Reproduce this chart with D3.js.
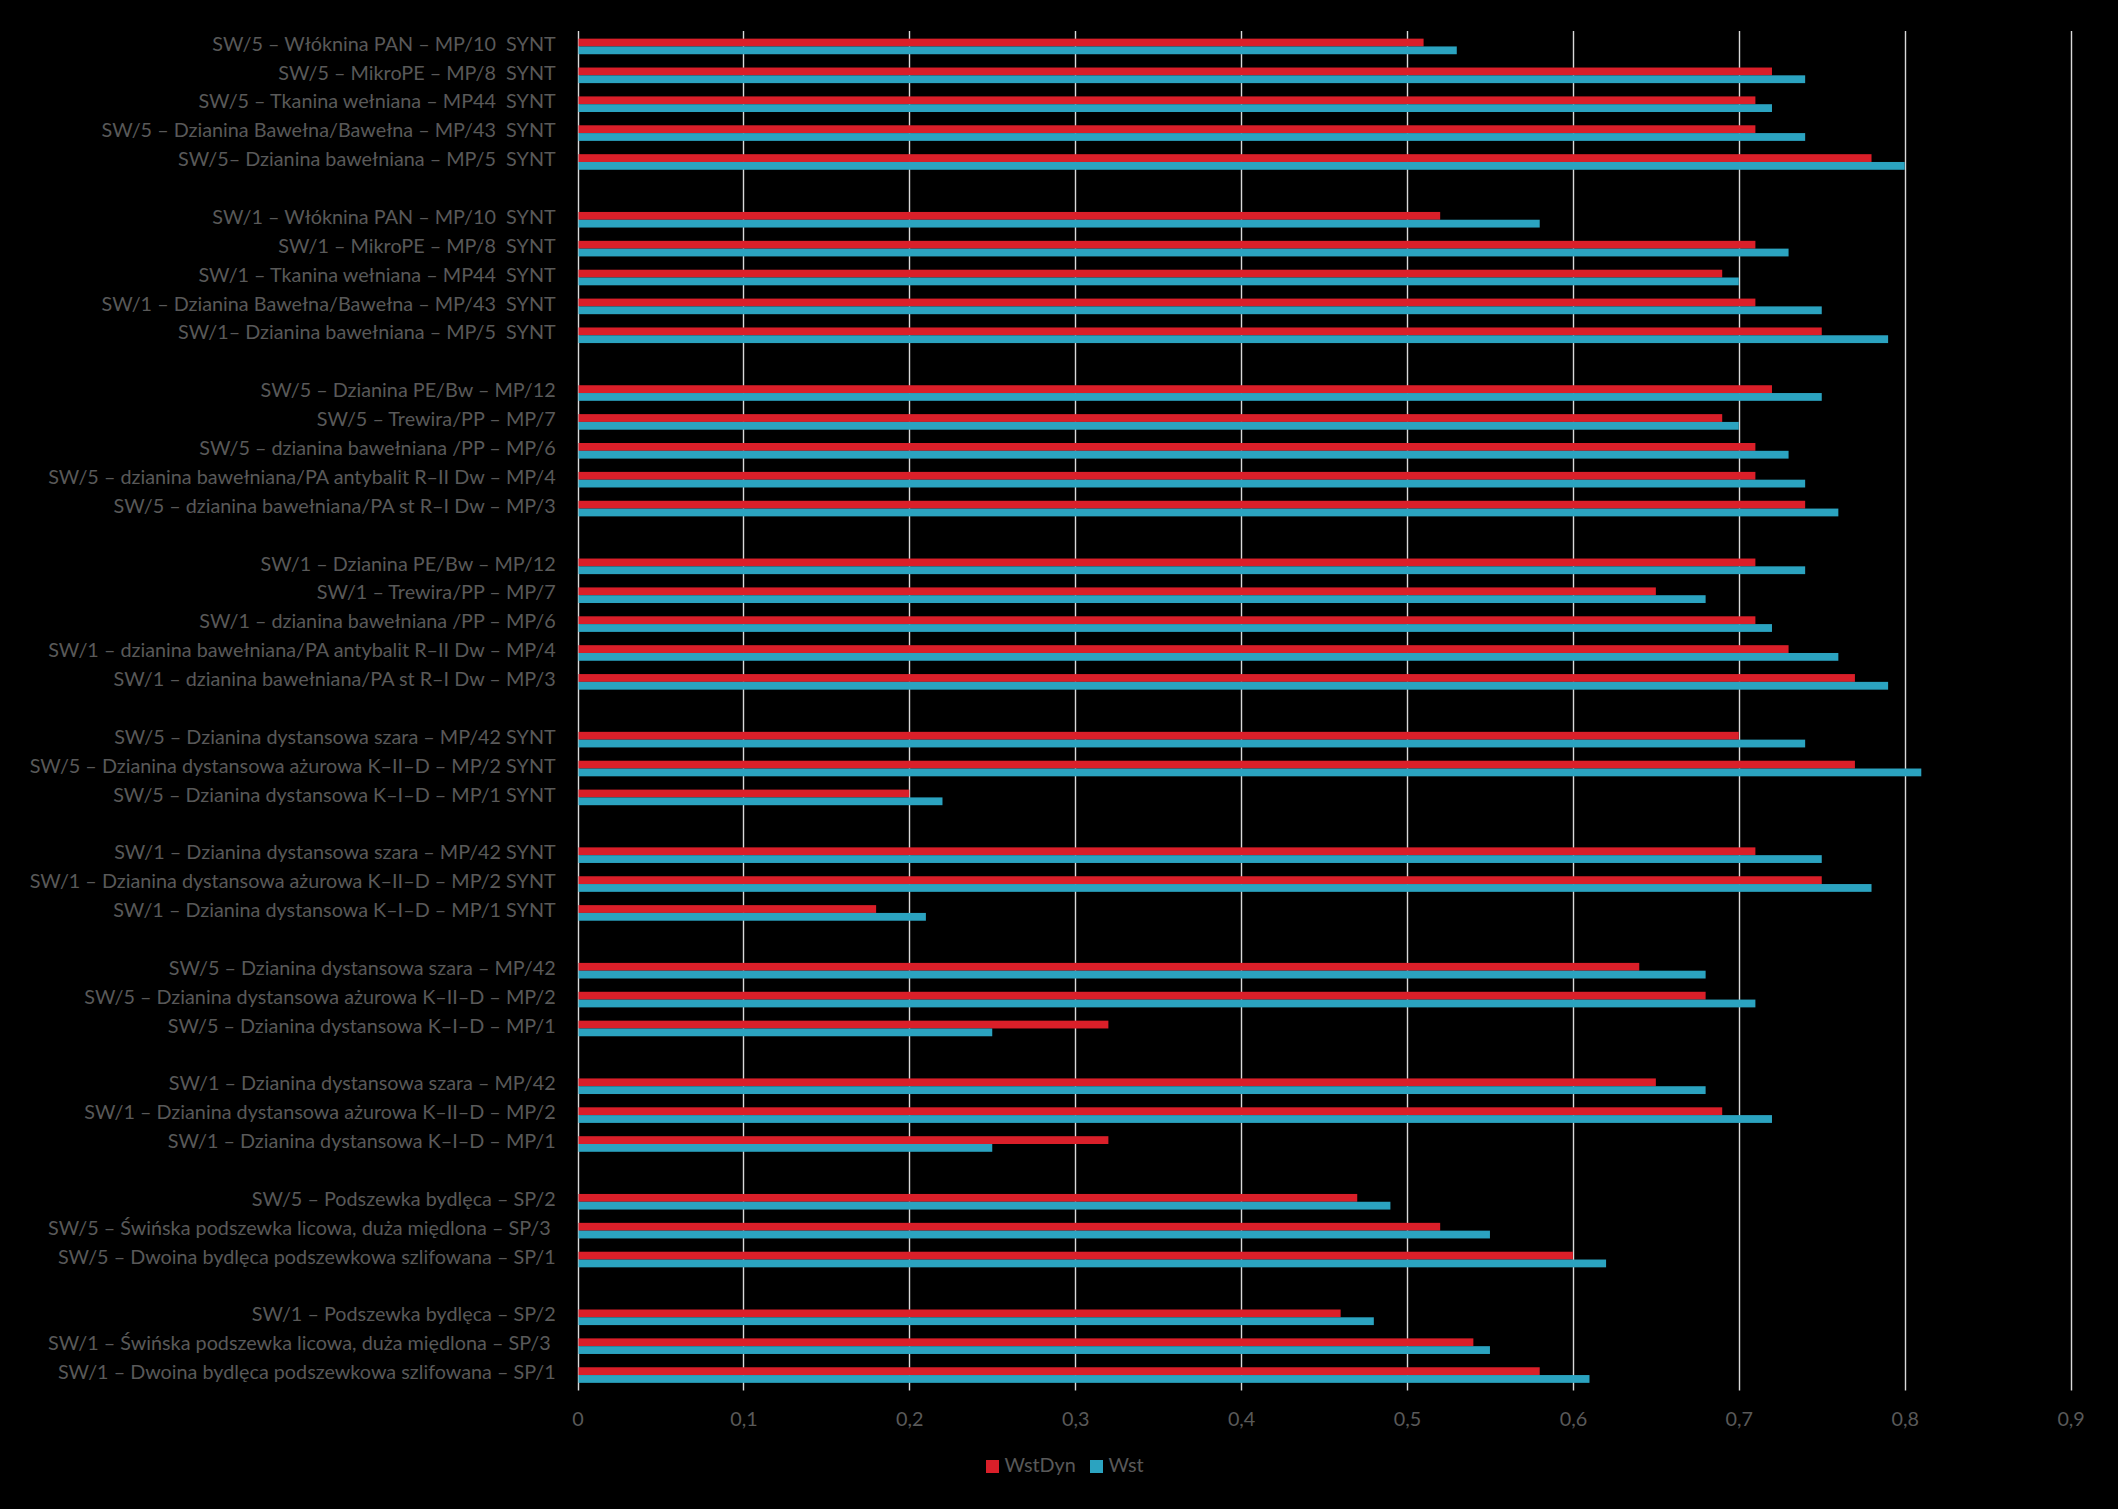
<!DOCTYPE html>
<html>
<head>
<meta charset="utf-8">
<script src="https://cdn.jsdelivr.net/npm/d3@7"></script>
<style>
  html, body { margin: 0; padding: 0; background: #000; }
  svg { display: block; }
  text { white-space: pre; }
</style>
</head>
<body>
<svg id="chart" width="2118" height="1509"></svg>
<script>
// ---- data (top to bottom; null = gap between groups) ----
const categories = [
  "SW/5 – Włóknina PAN – MP/10  SYNT",
  "SW/5 – MikroPE – MP/8  SYNT",
  "SW/5 – Tkanina wełniana – MP44  SYNT",
  "SW/5 – Dzianina Bawełna/Bawełna – MP/43  SYNT",
  "SW/5– Dzianina bawełniana – MP/5  SYNT",
  null,
  "SW/1 – Włóknina PAN – MP/10  SYNT",
  "SW/1 – MikroPE – MP/8  SYNT",
  "SW/1 – Tkanina wełniana – MP44  SYNT",
  "SW/1 – Dzianina Bawełna/Bawełna – MP/43  SYNT",
  "SW/1– Dzianina bawełniana – MP/5  SYNT",
  null,
  "SW/5 – Dzianina PE/Bw – MP/12",
  "SW/5 – Trewira/PP – MP/7",
  "SW/5 – dzianina bawełniana /PP – MP/6",
  "SW/5 – dzianina bawełniana/PA antybalit R–II Dw – MP/4",
  "SW/5 – dzianina bawełniana/PA st R–I Dw – MP/3",
  null,
  "SW/1 – Dzianina PE/Bw – MP/12",
  "SW/1 – Trewira/PP – MP/7",
  "SW/1 – dzianina bawełniana /PP – MP/6",
  "SW/1 – dzianina bawełniana/PA antybalit R–II Dw – MP/4",
  "SW/1 – dzianina bawełniana/PA st R–I Dw – MP/3",
  null,
  "SW/5 – Dzianina dystansowa szara – MP/42 SYNT",
  "SW/5 – Dzianina dystansowa ażurowa K–II–D – MP/2 SYNT",
  "SW/5 – Dzianina dystansowa K–I–D – MP/1 SYNT",
  null,
  "SW/1 – Dzianina dystansowa szara – MP/42 SYNT",
  "SW/1 – Dzianina dystansowa ażurowa K–II–D – MP/2 SYNT",
  "SW/1 – Dzianina dystansowa K–I–D – MP/1 SYNT",
  null,
  "SW/5 – Dzianina dystansowa szara – MP/42",
  "SW/5 – Dzianina dystansowa ażurowa K–II–D – MP/2",
  "SW/5 – Dzianina dystansowa K–I–D – MP/1",
  null,
  "SW/1 – Dzianina dystansowa szara – MP/42",
  "SW/1 – Dzianina dystansowa ażurowa K–II–D – MP/2",
  "SW/1 – Dzianina dystansowa K–I–D – MP/1",
  null,
  "SW/5 – Podszewka bydlęca – SP/2",
  "SW/5 – Świńska podszewka licowa, duża międlona – SP/3 ",
  "SW/5 – Dwoina bydlęca podszewkowa szlifowana – SP/1",
  null,
  "SW/1 – Podszewka bydlęca – SP/2",
  "SW/1 – Świńska podszewka licowa, duża międlona – SP/3 ",
  "SW/1 – Dwoina bydlęca podszewkowa szlifowana – SP/1"
];

const wstDyn = [
  0.51, 0.72, 0.71, 0.71, 0.78, null,
  0.52, 0.71, 0.69, 0.71, 0.75, null,
  0.72, 0.69, 0.71, 0.71, 0.74, null,
  0.71, 0.65, 0.71, 0.73, 0.77, null,
  0.70, 0.77, 0.20, null,
  0.71, 0.75, 0.18, null,
  0.64, 0.68, 0.32, null,
  0.65, 0.69, 0.32, null,
  0.47, 0.52, 0.60, null,
  0.46, 0.54, 0.58
];

const wst = [
  0.53, 0.74, 0.72, 0.74, 0.80, null,
  0.58, 0.73, 0.70, 0.75, 0.79, null,
  0.75, 0.70, 0.73, 0.74, 0.76, null,
  0.74, 0.68, 0.72, 0.76, 0.79, null,
  0.74, 0.81, 0.22, null,
  0.75, 0.78, 0.21, null,
  0.68, 0.71, 0.25, null,
  0.68, 0.72, 0.25, null,
  0.49, 0.55, 0.62, null,
  0.48, 0.55, 0.61
];

const seriesNames = ["WstDyn", "Wst"];
const seriesColors = ["#da1f29", "#2ba3c0"];
const tickValues = [0, 0.1, 0.2, 0.3, 0.4, 0.5, 0.6, 0.7, 0.8, 0.9];
const tickLabels = ["0", "0,1", "0,2", "0,3", "0,4", "0,5", "0,6", "0,7", "0,8", "0,9"];

// ---- layout ----
const FONT = "Lato, 'Open Sans', sans-serif";
const FONT_SIZE = 19.8;
const textColor = "#595959";
const gridColor = "#d9d9d9";
const plot = { left: 577.5, right: 2070.6, top: 32, bottom: 1389.5 };

const svg = d3.select("#chart");
svg.append("rect").attr("width", 2118).attr("height", 1509).attr("fill", "#000");

const x = d3.scaleLinear().domain([0, 0.9]).range([plot.left, plot.right]);
const y = d3.scaleBand()
  .domain(d3.range(categories.length))
  .range([plot.top, plot.bottom])
  .paddingInner(0.46)
  .paddingOuter(0.23);
const ySub = d3.scaleBand().domain(seriesNames).range([0, y.bandwidth()]);

// gridlines (including the axis line at 0)
svg.append("g")
  .selectAll("line")
  .data(tickValues)
  .join("line")
  .attr("x1", d => Math.round(x(d)) + 0.5)
  .attr("x2", d => Math.round(x(d)) + 0.5)
  .attr("y1", plot.top - 1)
  .attr("y2", plot.bottom + 1)
  .attr("stroke", gridColor)
  .attr("stroke-width", 1.4);

// bars
const seriesData = [wstDyn, wst];
seriesNames.forEach((name, si) => {
  svg.append("g")
    .attr("fill", seriesColors[si])
    .selectAll("rect")
    .data(seriesData[si].map((v, i) => ({ v, i })).filter(d => d.v != null))
    .join("rect")
    .attr("x", x(0) + 1)
    .attr("y", d => y(d.i) + ySub(name))
    .attr("width", d => x(d.v) - x(0) - 1)
    .attr("height", ySub.bandwidth());
});

// category labels
svg.append("g")
  .selectAll("text")
  .data(categories.map((c, i) => ({ c, i })).filter(d => d.c != null))
  .join("text")
  .attr("x", 555.7)
  .attr("y", d => y(d.i) + y.bandwidth() / 2 + 4.2)
  .attr("text-anchor", "end")
  .attr("font-family", FONT)
  .attr("font-size", FONT_SIZE)
  .attr("fill", textColor)
  .text(d => d.c);

// x axis
const xAxis = d3.axisBottom(x)
  .tickValues(tickValues)
  .tickFormat((d, i) => tickLabels[i])
  .tickSize(0)
  .tickPadding(22);
const gx = svg.append("g")
  .attr("transform", `translate(0,${plot.bottom})`)
  .call(xAxis);
gx.select(".domain").remove();
gx.selectAll("text")
  .attr("font-family", FONT)
  .attr("font-size", FONT_SIZE)
  .attr("fill", textColor);

// legend
const legend = svg.append("g").attr("transform", "translate(986,1460)");
const items = legend.selectAll("g")
  .data(seriesNames)
  .join("g")
  .attr("transform", (d, i) => `translate(${i * 104},0)`);
items.append("rect")
  .attr("width", 13).attr("height", 13)
  .attr("fill", (d, i) => seriesColors[i]);
items.append("text")
  .attr("x", 18.5)
  .attr("y", 12.3)
  .attr("font-family", FONT)
  .attr("font-size", FONT_SIZE)
  .attr("fill", textColor)
  .text(d => d);
</script>
</body>
</html>
